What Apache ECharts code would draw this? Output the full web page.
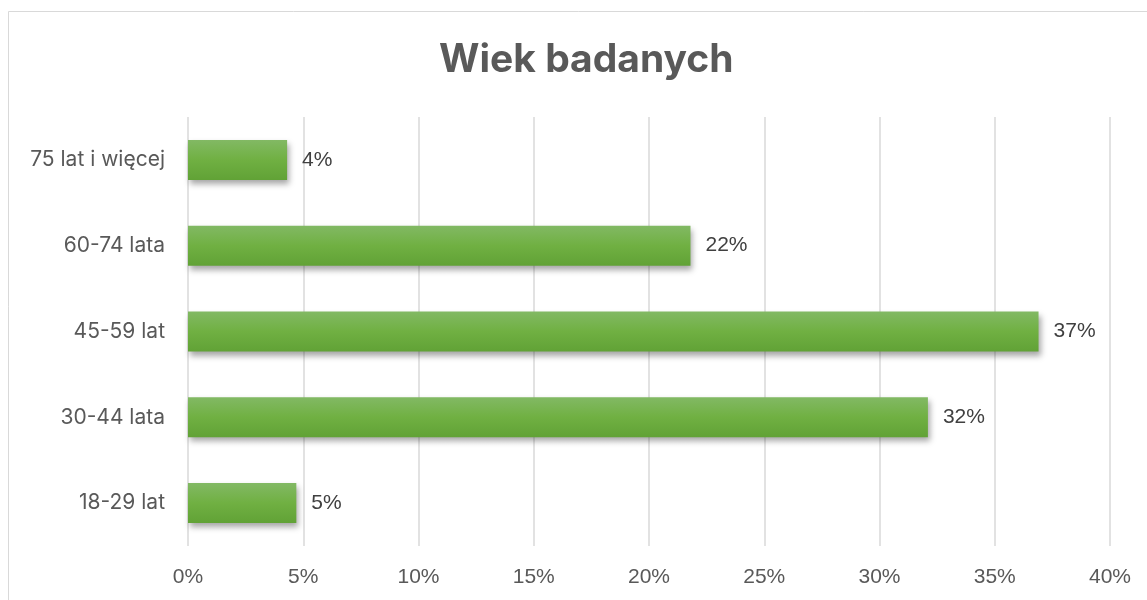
<!DOCTYPE html>
<html style="height: 100%">
<head>
<meta charset="utf-8">
<script src="https://cdn.jsdelivr.net/npm/echarts@6/dist/echarts.min.js"></script>
</head>
<body style="height: 100%; margin: 0; background: #fff">
<div id="container" style="width: 1147px; height: 600px"></div>
<script>
// data
var categories = ['18-29 lat', '30-44 lata', '45-59 lat', '60-74 lata', '75 lat i więcej'];
var shares = [4.7, 32.1, 36.9, 21.8, 4.3];
var axisTicks = { min: 0, max: 40, step: 5 };

var myChart = echarts.init(document.getElementById('container'));

var option = {
    backgroundColor: '#ffffff',
    animation: false,
    title: {
        text: 'Wiek badanych',
        left: 434,
        top: 36,
        textStyle: {
            fontFamily: 'Inter',
            fontWeight: 'bold',
            fontSize: 39,
            color: '#595959'
        }
    },
    graphic: [{
        type: 'rect',
        shape: { x: 8.5, y: 11.5, width: 1300, height: 800 },
        style: { fill: 'none', stroke: '#d9d9d9', lineWidth: 1 },
        silent: true
    }],
    grid: { left: 188, right: 37, top: 117, bottom: 54 },
    xAxis: {
        type: 'value',
        min: axisTicks.min,
        max: axisTicks.max,
        interval: axisTicks.step,
        axisLine: { show: false },
        axisTick: { show: false },
        splitLine: { lineStyle: { color: '#d9d9d9', width: 1.5 } },
        axisLabel: {
            margin: 21,
            fontFamily: 'Liberation Sans',
            fontSize: 21,
            color: '#595959',
            formatter: '{value}%'
        }
    },
    yAxis: {
        type: 'category',
        data: categories,
        axisLine: { show: false },
        axisTick: { show: false },
        axisLabel: {
            margin: 23,
            fontFamily: 'Inter',
            fontSize: 21,
            color: '#595959'
        }
    },
    series: [{
        type: 'bar',
        data: shares,
        barWidth: 40,
        itemStyle: {
            color: new echarts.graphic.LinearGradient(0, 0, 0, 1, [
                { offset: 0, color: '#82b964' },
                { offset: 0.5, color: '#70b042' },
                { offset: 1, color: '#61a236' }
            ]),
            shadowBlur: 6,
            shadowOffsetX: 2,
            shadowOffsetY: 4,
            shadowColor: 'rgba(0, 0, 0, 0.35)'
        },
        label: {
            show: true,
            position: 'right',
            distance: 15,
            fontFamily: 'Liberation Sans',
            fontSize: 21,
            color: '#404040',
            formatter: function (p) { return Math.round(p.value) + '%'; }
        }
    }]
};

myChart.setOption(option);
</script>
</body>
</html>
